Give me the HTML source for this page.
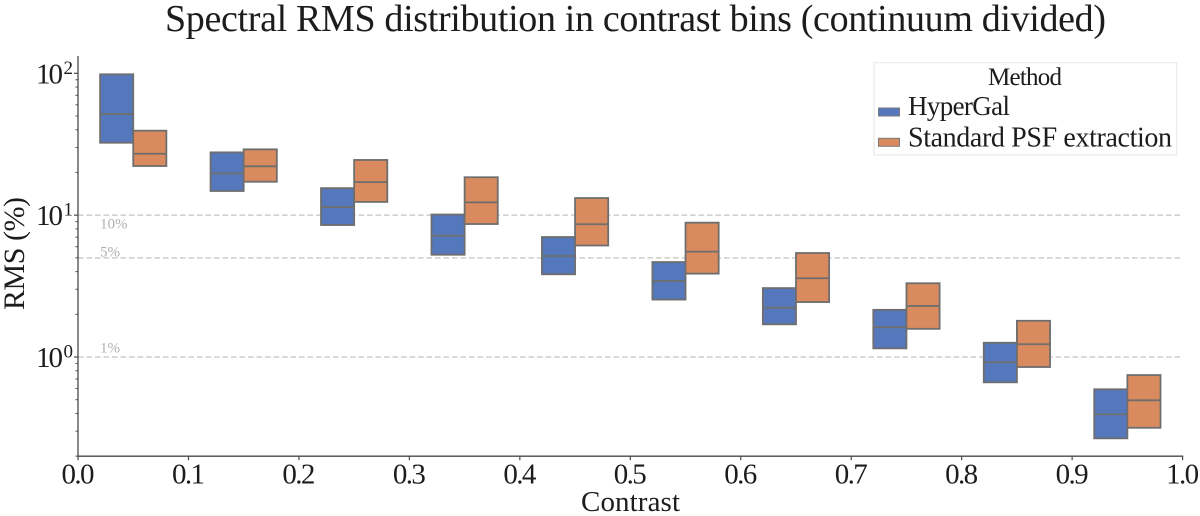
<!DOCTYPE html>
<html lang="en">
<head>
<meta charset="utf-8">
<title>Spectral RMS distribution in contrast bins</title>
<style>
html,body{margin:0;padding:0;background:#fff;width:1200px;height:516px;overflow:hidden}
svg{display:block}
text{font-family:"Liberation Serif",serif;fill:#1c1c1c}
</style>
</head>
<body>
<svg id="chart" xmlns="http://www.w3.org/2000/svg" width="1200" height="516" viewBox="0 0 1200 516">
  <rect x="0" y="0" width="1200" height="516" fill="#fff"/>
  <text x="165" y="31" font-size="38" textLength="941" lengthAdjust="spacing">Spectral RMS distribution in contrast bins (continuum divided)</text>
  <text x="581" y="511" font-size="29" textLength="99" lengthAdjust="spacing">Contrast</text>
  <text transform="translate(24,310) rotate(-90)" font-size="30" textLength="113" lengthAdjust="spacing">RMS (%)</text>
  <g id="refs"></g>
  <g id="boxes"></g>
  <g id="axes"></g>
  <g>
    <rect x="874" y="62.7" width="302.7" height="92.3" fill="#fff" stroke="#e6e6e6" stroke-width="1"/>
    <text x="988" y="85" font-size="25" textLength="74" lengthAdjust="spacing">Method</text>
    <rect x="878.5" y="108" width="21" height="8" fill="#5578bd" stroke="#7a7a7a" stroke-width="1"/>
    <text x="908" y="115" font-size="27" textLength="102" lengthAdjust="spacing">HyperGal</text>
    <rect x="878.5" y="138.3" width="21" height="8" fill="#d98b5f" stroke="#7a7a7a" stroke-width="1"/>
    <text x="908" y="146.5" font-size="28" textLength="264" lengthAdjust="spacing">Standard PSF extraction</text>
  </g>
</svg>
<script>
const binCenters = [0.05, 0.15, 0.25, 0.35, 0.45, 0.55, 0.65, 0.75, 0.85, 0.95];
const hypergalQ3 = [98.4, 27.7, 15.5, 10.1, 7.01, 4.67, 3.06, 2.15, 1.26, 0.592];
const hypergalMedian = [51.6, 19.7, 11.4, 7.17, 5.15, 3.43, 2.23, 1.62, 0.918, 0.394];
const hypergalQ1 = [32.4, 14.8, 8.52, 5.26, 3.83, 2.54, 1.70, 1.15, 0.663, 0.267];
const standardQ3 = [39.4, 29.1, 24.5, 18.5, 13.2, 8.85, 5.41, 3.31, 1.80, 0.746];
const standardMedian = [27.1, 22.1, 17.1, 12.3, 8.63, 5.53, 3.59, 2.29, 1.23, 0.495];
const standardQ1 = [22.2, 17.2, 12.4, 8.66, 6.11, 3.87, 2.44, 1.58, 0.850, 0.317];
const xTickValues = [0, 0.1, 0.2, 0.3, 0.4, 0.5, 0.6, 0.7, 0.8, 0.9, 1];
const xTickLabels = ["0.0", "0.1", "0.2", "0.3", "0.4", "0.5", "0.6", "0.7", "0.8", "0.9", "1.0"];
const yMajorValues = [1, 10, 100];
const yMajorExponents = ["0", "1", "2"];
const yMinorValues = [0.2, 0.3, 0.4, 0.5, 0.6, 0.7, 0.8, 0.9, 2, 3, 4, 5, 6, 7, 8, 9, 20, 30, 40, 50, 60, 70, 80, 90];
const refValues = [10, 5, 1];
const refLabels = ["10%", "5%", "1%"];
const refLabelOffsets = [13.3, -1.3, -4.3];

const SVGNS = "http://www.w3.org/2000/svg";
const X0 = 78, X1 = 1182.6, Y_TOP = 56, Y_BOTTOM = 456.2;
const BOX_WIDTH = 0.03;
const PER_DECADE = 141.85, Y_AT_ONE = 357;
const xScale = v => X0 + v * (X1 - X0);
const yScale = v => Y_AT_ONE - Math.log10(v) * PER_DECADE;

function make(parent, tag, props, content) {
  const el = document.createElementNS(SVGNS, tag);
  for (const k in props) el.setAttribute(k, props[k]);
  if (content !== undefined) el.textContent = content;
  parent.appendChild(el);
  return el;
}

const refs = document.getElementById("refs");
const boxes = document.getElementById("boxes");
const axes = document.getElementById("axes");

function drawBox(center, side, q1, med, q3, fill, name) {
  const left = side < 0 ? center - BOX_WIDTH : center;
  const x = xScale(left);
  const w = xScale(left + BOX_WIDTH) - x;
  const rect = make(boxes, "rect", {x: x, y: yScale(q3), width: w, height: yScale(q1) - yScale(q3), fill: fill, stroke: "#6e6e6e", "stroke-width": 1.8});
  
  
  const line = make(boxes, "line", {x1: x, x2: x + w, y1: yScale(med), y2: yScale(med), stroke: "#6e6e6e", "stroke-width": 1.8});
  
  
}

binCenters.forEach((c, i) => {
  drawBox(c, -1, hypergalQ1[i], hypergalMedian[i], hypergalQ3[i], "#5578bd", "hypergal-bin-" + i);
  drawBox(c, 1, standardQ1[i], standardMedian[i], standardQ3[i], "#d98b5f", "standard-psf-bin-" + i);
});

refValues.forEach((v, i) => {
  const line = make(refs, "line", {x1: X0, x2: X1, y1: yScale(v), y2: yScale(v), stroke: "#cdcdcd", "stroke-width": 1.5, "stroke-dasharray": "5.6 2.9"});
  
  
  const label = make(refs, "text", {x: 100, y: yScale(v) + refLabelOffsets[i], "font-size": 15, style: "fill:#b0b0b0"}, refLabels[i]);
  
  
});

const AXIS = "#4a4a4a";
const leftSpine = make(axes, "line", {x1: X0, x2: X0, y1: Y_TOP, y2: Y_BOTTOM, stroke: AXIS, "stroke-width": 1.3});


const bottomSpine = make(axes, "line", {x1: X0 - 0.6, x2: X1 + 0.6, y1: Y_BOTTOM, y2: Y_BOTTOM, stroke: AXIS, "stroke-width": 1.3});



xTickValues.forEach((v, i) => {
  const tick = make(axes, "line", {x1: xScale(v), x2: xScale(v), y1: Y_BOTTOM, y2: Y_BOTTOM + 4, stroke: AXIS, "stroke-width": 1.2});
  
  
  const label = make(axes, "text", {x: xScale(v) - 16.5, y: 483.7, "font-size": 29, textLength: 33, lengthAdjust: "spacing"}, xTickLabels[i]);
  
  
});

yMinorValues.forEach(v => {
  const tick = make(axes, "line", {x1: X0 - 2.5, x2: X0, y1: yScale(v), y2: yScale(v), stroke: AXIS, "stroke-width": 1});
  
  
});

yMajorValues.forEach((v, i) => {
  const tick = make(axes, "line", {x1: X0 - 4, x2: X0, y1: yScale(v), y2: yScale(v), stroke: AXIS, "stroke-width": 1.2});
  
  
  const base = make(axes, "text", {x: 36, y: yScale(v) + 10, "font-size": 29, textLength: 27, lengthAdjust: "spacing"}, "10");
  
  
  const exp = make(axes, "text", {x: 63.5, y: yScale(v) + 0.5, "font-size": 19}, yMajorExponents[i]);
  
  
});
</script>
</body>
</html>
